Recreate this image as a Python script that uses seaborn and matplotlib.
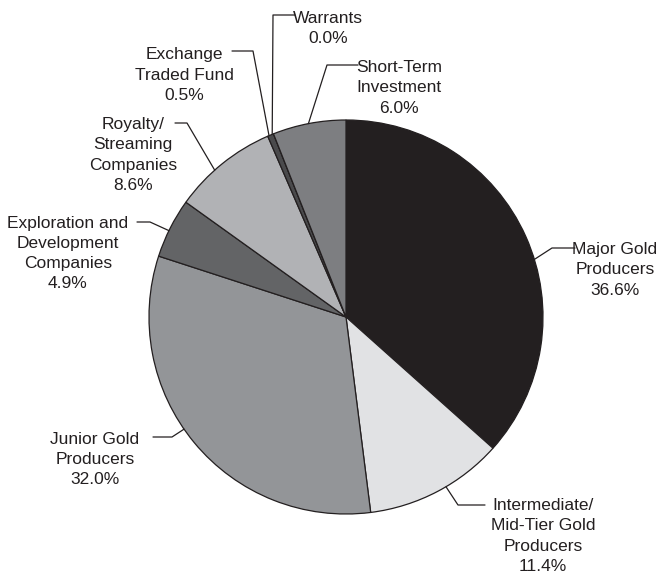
import numpy as np
import matplotlib
matplotlib.use("Agg")
import matplotlib.pyplot as plt
import seaborn as sns

# ---- data ----
categories = ["Major Gold\nProducers", "Intermediate/\nMid-Tier Gold\nProducers",
              "Junior Gold\nProducers", "Exploration and\nDevelopment\nCompanies",
              "Royalty/\nStreaming\nCompanies", "Exchange\nTraded Fund",
              "Warrants", "Short-Term\nInvestment"]
values = [36.6, 11.4, 32.0, 4.9, 8.6, 0.5, 0.0, 6.0]
colors = ["#231f20", "#e1e2e4", "#939598", "#636466", "#b1b2b5", "#4a4a4c",
          "#3a3a3c", "#7d7e81"]

# ---- layout (pixel coordinates of the 662x580 canvas) ----
W, H = 662, 580
CX, CY, R = 346, 317, 197
# text centre (x, y), contact angle on the pie (deg), elbow point, line end
layout = [
    ((615, 270), 17.0, (552, 248), (575, 248)),
    ((543, 536), -59.5, (458, 505), (485, 505)),
    ((95, 459.5), 214.7, (172, 437), (153, 437)),
    ((68, 253.5), 154.0, (150, 222), (137, 222)),
    ((133, 155), 131.8, (187, 123), (175, 123)),
    ((184, 75), 113.0, (253, 51), (232, 51)),
    ((328, 28.5), 112.0, (273, 15), (295, 15)),
    ((399, 88), 101.0, (327, 65), (358, 65)),
]

sns.set_theme(style="white")
plt.rcParams["font.family"] = ["Liberation Sans Narrow", "Liberation Sans", "DejaVu Sans"]

fig = plt.figure(figsize=(W / 100, H / 100), dpi=100)
fig.patch.set_facecolor("white")
ax = fig.add_axes([(CX - R) / W, (H - CY - R) / H, 2 * R / W, 2 * R / H])
ax.pie(values, colors=colors, startangle=90, counterclock=False, radius=1.0,
       wedgeprops=dict(edgecolor="#231f20", linewidth=0.9))
ax.set_xlim(-1, 1)
ax.set_ylim(-1, 1)
ax.set_aspect("equal")
ax.axis("off")


def fx(x):
    return x / W


def fy(y):
    return 1 - y / H


ink = "#231f20"
for lab, val, (tpos, ang, elbow, end) in zip(categories, values, layout):
    a = np.deg2rad(ang)
    px0 = CX + R * np.cos(a)
    py0 = CY - R * np.sin(a)
    xs = [px0, elbow[0], end[0]]
    ys = [py0, elbow[1], end[1]]
    fig.add_artist(plt.Line2D([fx(v) for v in xs], [fy(v) for v in ys],
                              color=ink, lw=0.9, transform=fig.transFigure))
    fig.text(fx(tpos[0]), fy(tpos[1]), f"{lab}\n{val:.1f}%", ha="center",
             va="center", fontsize=12.5, color=ink, linespacing=1.42)

fig.savefig("out.png", dpi=100, facecolor="white")
